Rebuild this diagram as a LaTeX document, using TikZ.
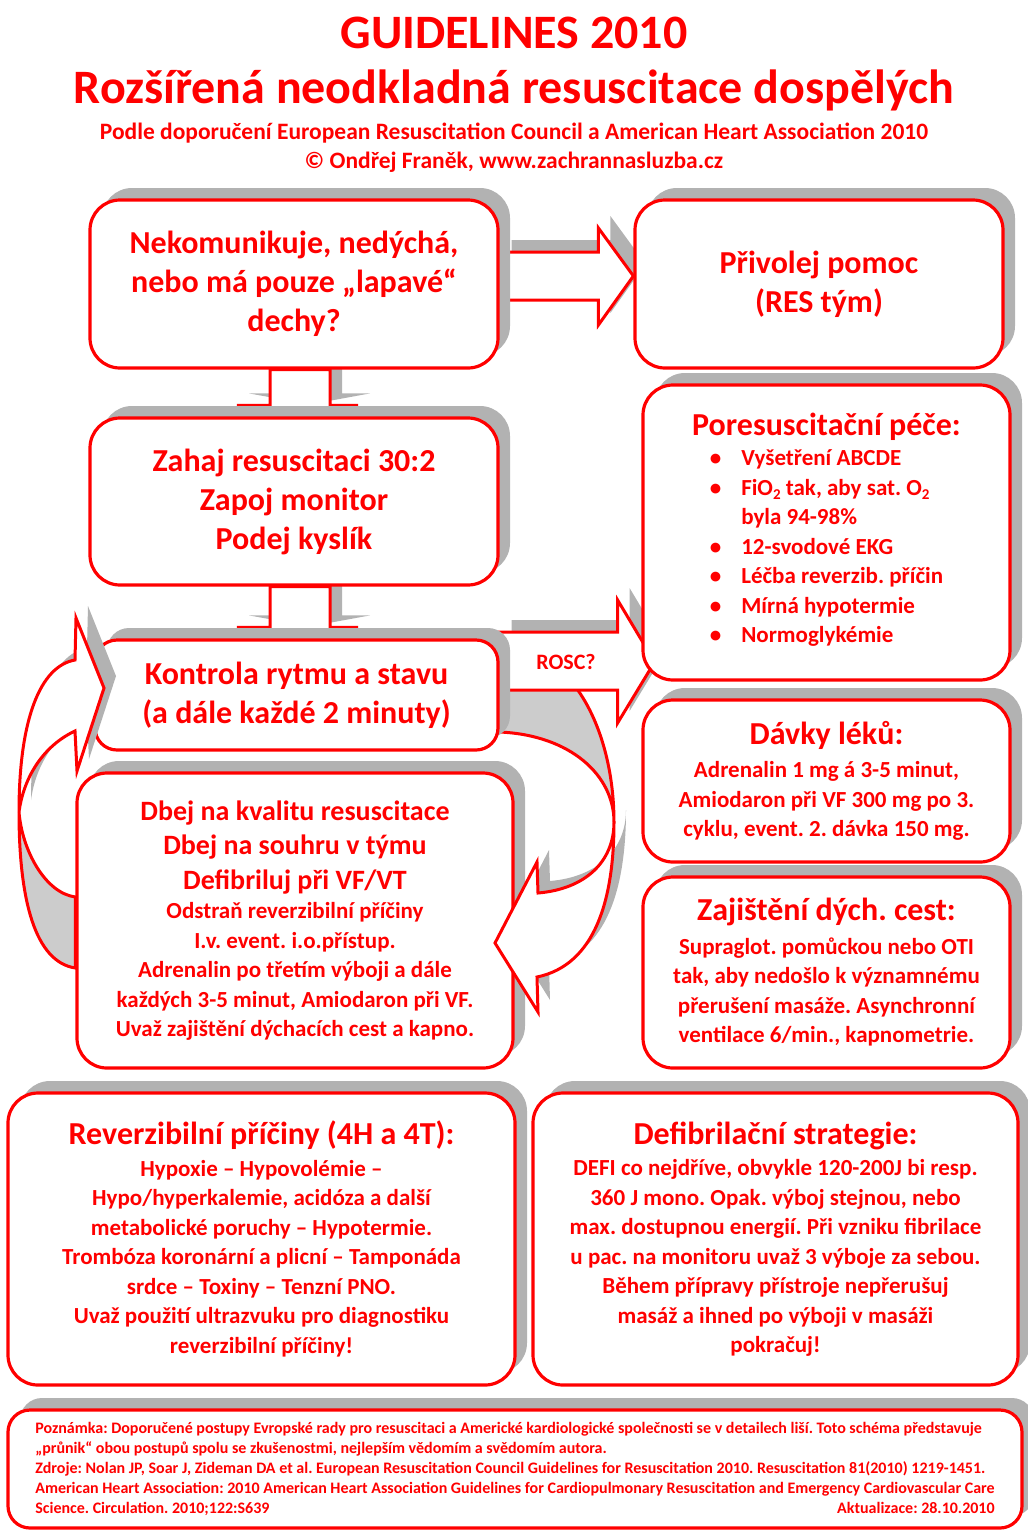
\documentclass[tikz,border=0pt]{standalone}
\usepackage{fontspec}
\setmainfont{Carlito}
\usetikzlibrary{calc,positioning,shadows,backgrounds}
\definecolor{rescred}{RGB}{255,0,0}
\frenchspacing
\newcommand\headsize{\fontsize{48}{56}\selectfont\bfseries}
\newcommand\subsize{\fontsize{23.5}{28}\selectfont\bfseries}
\newcommand\bigsize{\fontsize{32}{39}\selectfont\bfseries}
\newcommand\midsize{\fontsize{28}{35}\selectfont\bfseries}
\newcommand\txtsize{\fontsize{23}{29.5}\selectfont\bfseries}
\newcommand\notesize{\fontsize{16}{20}\selectfont\bfseries}
\newcommand\lowidx[1]{\raisebox{-0.35ex}{\fontsize{15}{15}\selectfont#1}}

\begin{document}
\begin{tikzpicture}[x=1pt,y=-1pt,
  castshadow/.style={drop shadow={shadow xshift=12pt,shadow yshift=12pt,fill=black!30,opacity=1}},
  box/.style={draw=rescred,line width=3.2pt,fill=white,rounded corners=30pt,castshadow,align=center,inner sep=0pt},
  blockarrow/.style={draw=rescred,line width=3pt,fill=white,line join=miter,castshadow},
  backband/.style={draw=rescred,line width=3pt,fill=black!20},
  every node/.style={text=rescred}]
  \useasboundingbox (0,0) rectangle (1028,1532);

  \node[font=\headsize] (title) at (514,33) {GUIDELINES 2010};
  \node[font=\headsize] (subtitle) at (514,90) {Rozšířená neodkladná resuscitace dospělých};
  \node[font=\subsize] (source) at (514,133) {Podle doporučení European Resuscitation Council a American Heart Association 2010};
  \node[font=\subsize] (author) at (514,162) {© Ondřej Franěk, www.zachrannasluzba.cz};

  \node[box,font=\bigsize,minimum width=408,minimum height=168] (nekom) at (294,284) {Nekomunikuje, nedýchá,\\nebo má pouze „lapavé“\\dechy?};
  \node[box,font=\bigsize,minimum width=368,minimum height=168] (pomoc) at (819,284) {Přivolej pomoc\\(RES tým)};
  \node[box,font=\bigsize,minimum width=408,minimum height=167] (zahaj) at (294,501.5) {Zahaj resuscitaci 30:2\\Zapoj monitor\\Podej kyslík};
  \node[box,font=\bigsize,minimum width=403,minimum height=110,rounded corners=22pt] (kontrola) at (296.5,695) {Kontrola rytmu a stavu\\(a dále každé 2 minuty)};
  \node[box,font=\txtsize,minimum width=367,minimum height=295] (porez) at (826.5,532.5) {{\bigsize Poresuscitační péče:}\\[3pt]
    \begin{tabular}{@{}c@{\hspace{20pt}}l@{}}
      \textbullet & Vyšetření ABCDE\\
      \textbullet & FiO\lowidx{2} tak, aby sat. O\lowidx{2}\\
                  & byla 94-98\%\\
      \textbullet & 12-svodové EKG\\
      \textbullet & Léčba reverzib. příčin\\
      \textbullet & Mírná hypotermie\\
      \textbullet & Normoglykémie
    \end{tabular}};
  \node[box,font=\txtsize,minimum width=367,minimum height=162] (davky) at (826.5,781) {{\bigsize Dávky léků:}\\[4pt]Adrenalin 1 mg á 3-5 minut,\\Amiodaron při VF 300 mg po 3.\\cyklu, event. 2. dávka 150 mg.};
  \node[box,font=\txtsize,minimum width=367,minimum height=191] (dych) at (826.5,972.5) {{\bigsize Zajištění dých. cest:}\\[4pt]Supraglot. pomůckou nebo OTI\\tak, aby nedošlo k významnému\\přerušení masáže. Asynchronní\\ventilace 6/min., kapnometrie.};
  \node[box,font=\txtsize,minimum width=436,minimum height=295] (kvalita) at (295,920.5) {{\midsize Dbej na kvalitu resuscitace}\\[5pt]{\midsize Dbej na souhru v týmu}\\[5pt]{\midsize Defibriluj při VF/VT}\\Odstraň reverzibilní příčiny\\I.v. event. i.o.přístup.\\Adrenalin po třetím výboji a dále\\každých 3-5 minut, Amiodaron při VF.\\Uvaž zajištění dýchacích cest a kapno.};
  \node[box,font=\txtsize,minimum width=507,minimum height=292] (revpric) at (261.5,1239) {{\bigsize Reverzibilní příčiny (4H a 4T):}\\[2pt]Hypoxie – Hypovolémie –\\Hypo/hyperkalemie, acidóza a další\\metabolické poruchy – Hypotermie.\\Trombóza koronární a plicní – Tamponáda\\srdce – Toxiny – Tenzní PNO.\\Uvaž použití ultrazvuku pro diagnostiku\\reverzibilní příčiny!};
  \node[box,font=\txtsize,minimum width=485,minimum height=292] (defstrat) at (775.5,1239) {{\bigsize Defibrilační strategie:}\\[2pt]DEFI co nejdříve, obvykle 120-200J bi resp.\\360 J mono. Opak. výboj stejnou, nebo\\max. dostupnou energií. Při vzniku fibrilace\\u pac. na monitoru uvaž 3 výboje za sebou.\\Během přípravy přístroje nepřerušuj\\masáž a ihned po výboji v masáži\\pokračuj!};
  \node[box,font=\notesize,align=left,rounded corners=22pt,minimum width=1014,minimum height=118] (pozn) at (515,1469) {Poznámka: Doporučené postupy Evropské rady pro resuscitaci a Americké kardiologické společnosti se v detailech liší. Toto schéma představuje\\„průnik“ obou postupů spolu se zkušenostmi, nejlepším vědomím a svědomím autora.\\Zdroje: Nolan JP, Soar J, Zideman DA et al. European Resuscitation Council Guidelines for Resuscitation 2010. Resuscitation 81(2010) 1219-1451.\\American Heart Association: 2010 American Heart Association Guidelines for Cardiopulmonary Resuscitation and Emergency Cardiovascular Care\\Science. Circulation. 2010;122:S639\hfill Aktualizace: 28.10.2010};

  \coordinate (lturn) at (19,812);
  \coordinate (rturn) at (614,822);

  \begin{scope}[on background layer]
    \draw[backband] (lturn) .. controls (19,900) and (35,962) .. ($(kvalita.west)+(0,47.5)$) -- ($(kvalita.west)+(0,-23.5)$) .. controls (45,893) and (22,850) .. (lturn) -- cycle;
    \draw[backband] ($(kontrola.east)+(0,-15)$) -- (570,680) .. controls (600,715) and (614,770) .. (rturn) .. controls (614,775) and (570,735) .. ($(kontrola.east)+(0,37)$) -- cycle;
    \draw[blockarrow] ($(nekom.east)+(0,-32)$) -- ($(pomoc.west)+(-35,-32)$) -- ($(pomoc.west)+(-35,-56)$) -- ($(pomoc.west)+(0,-8)$) -- ($(pomoc.west)+(-35,41)$) -- ($(pomoc.west)+(-35,16)$) -- ($(nekom.east)+(0,16)$) -- cycle;
    \foreach \from/\to in {nekom/zahaj,zahaj/kontrola}
      \draw[blockarrow] ($(\from.south)+(-24,0)$) -- ($(\from.south |- \to.north)+(-24,-11)$) -- ++(-33,0) -- ($(\from.south |- \to.north)+(4,0)$) -- ($(\from.south |- \to.north)+(64,-11)$) -- ++(-28,0) -- ($(\from.south)+(36,0)$) -- cycle;
    \draw[blockarrow] ($(kontrola.east)+(0,-63)$) -- ++(118,0) -- ++(0,-32) -- ($(kontrola.east)+(155,-33)$) -- ($(kontrola.east)+(118,28)$) -- ++(0,-33) -- ($(kontrola.east)+(0,-5)$) -- cycle;
    \node[font=\fontsize{22}{26}\selectfont\bfseries] (rosc) at (566,662) {ROSC?};
  \end{scope}

  \draw[blockarrow] (lturn) .. controls (19,720) and (40,666) .. (75,660) -- (76,618) -- (104,688) -- (77,771) -- (75,731) .. controls (45,745) and (24,775) .. (lturn) -- cycle;
  \draw[blockarrow] (rturn) .. controls (614,862) and (585,889) .. (538,893) -- (537,862) -- (495,943) -- (538,1012) -- (537,977) .. controls (595,965) and (614,900) .. (rturn) -- cycle;
\end{tikzpicture}
\end{document}
